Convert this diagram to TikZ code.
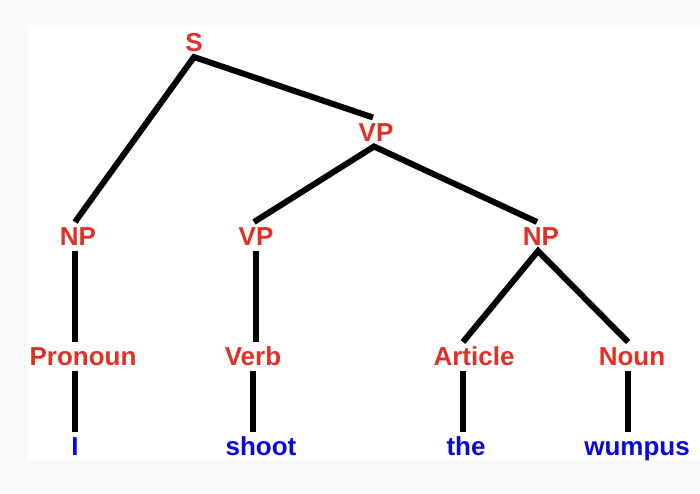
\documentclass[tikz,border=0pt]{standalone}
\usepackage{fontspec}
\setmainfont{Liberation Sans}
\usepackage{tikz}
\definecolor{catred}{RGB}{224,49,40}
\definecolor{wordblue}{RGB}{8,8,216}
\definecolor{paper}{RGB}{249,249,249}

\begin{document}
\begin{tikzpicture}[x=1pt,y=-1pt,
    cat/.style={text=catred,font=\fontsize{26}{30}\selectfont\bfseries,
      text height=18.6pt,text depth=0pt,inner xsep=0pt,inner ysep=5pt},
    word/.style={cat,text=wordblue},
    edge/.style={line width=6pt,line join=miter}]
      \useasboundingbox (0,0) rectangle (700,493);
      \fill[paper] (0,0) rectangle (700,493);
      \fill[white] (28,25) rectangle (700,460);

      \node[cat](s) at (194,42.5) {S};
      \node[cat](vp1) at (376,132) {VP};
      \node[cat](np1) at (78,236.5) {NP};
      \node[cat](vp2) at (256,236.5) {VP};
      \node[cat](np2) at (541,236.5) {NP};
      \node[cat](pron) at (83,356.5) {Pronoun};
      \node[cat](verb) at (253,356.5) {Verb};
      \node[cat](art) at (474,356.5) {Article};
      \node[cat](noun) at (632,356.5) {Noun};
      \node[word](i) at (75,446) {I};
      \node[word](shoot) at (261,446) {shoot};
      \node[word](the) at (466,446) {the};
      \node[word](wumpus) at (637,446) {wumpus};

      \draw[edge] ([xshift=-3pt]np1.north) -- (s.south) -- ([xshift=-3pt]vp1.north);
      \draw[edge] ([xshift=-2pt]vp2.north) -- ([xshift=-2pt]vp1.south) -- ([xshift=-4pt]np2.north);
      \draw[edge] ([xshift=-11pt]art.north) -- ([xshift=-3pt]np2.south) -- ([xshift=-4pt]noun.north);

      \draw[edge] (np1.south -| i.north) -- (i.north |- pron.north);
      \draw[edge] (vp2.south) -- (vp2.south |- verb.north);
      \draw[edge] (i.north |- pron.south) -- (i.north);
      \draw[edge] (verb.south) -- (verb.south |- shoot.north);
      \draw[edge] ([xshift=-11pt]art.south) -- ([xshift=-11pt]art.south |- the.north);
      \draw[edge] ([xshift=-4pt]noun.south) -- ([xshift=-4pt]noun.south |- wumpus.north);
\end{tikzpicture}
\end{document}
